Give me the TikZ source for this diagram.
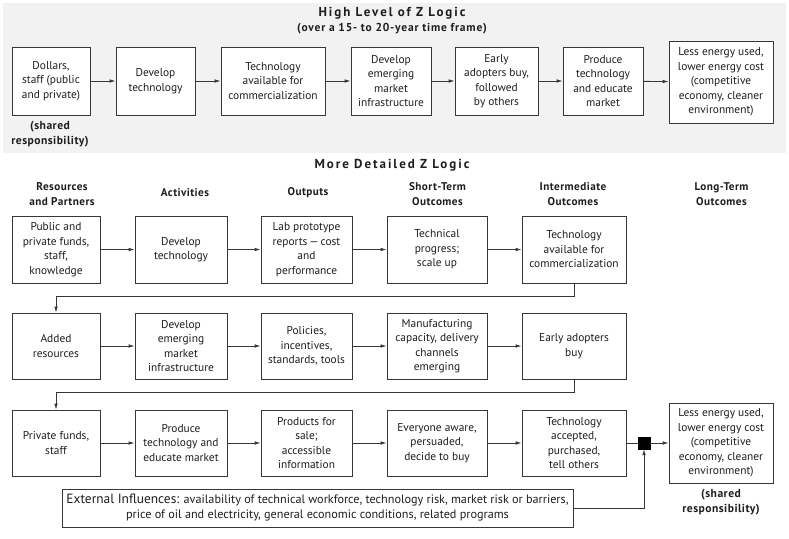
\documentclass[tikz,border=0pt]{standalone}
\usepackage{fontspec}
\setmainfont{PT Sans}
\newfontfamily\ttlfont{PT Sans}[LetterSpace=15]
\newfontfamily\subfont{PT Sans}[LetterSpace=7]
\newfontfamily\hdrfont{PT Sans}[LetterSpace=4]
\usetikzlibrary{arrows.meta}
\definecolor{panel}{RGB}{242,242,242}
\definecolor{linec}{RGB}{55,55,55}
\definecolor{txt}{RGB}{30,30,30}
\begin{document}
\begin{tikzpicture}[x=1pt,y=-1pt,
  box/.style={draw=linec, line width=0.8pt, fill=white, align=center, inner sep=1pt, text=txt,
              font=\fontsize{11.4}{14.5}\selectfont},
  conn/.style={draw=linec, line width=0.8pt},
  arr/.style={conn, -{Latex[length=6pt,width=3.6pt]}},
  hdr/.style={align=center, text=txt, font=\hdrfont\bfseries\fontsize{11.2}{15}\selectfont},
  ttl/.style={align=center, text=txt, font=\ttlfont\bfseries\fontsize{13}{16}\selectfont},
  note/.style={align=center, text=txt, font=\hdrfont\bfseries\fontsize{11.6}{15}\selectfont}]
\useasboundingbox (0,0) rectangle (789,538);
\fill[white] (0,0) rectangle (789,538);
\fill[panel] (3,3) rectangle (786,153);

% ---------- High level ----------
\node[ttl] (title1) at (392,13) {High Level of Z Logic};
\node[ttl, font=\subfont\bfseries\fontsize{11.5}{14}\selectfont] (title1b) at (392,29) {(over a 15- to 20-year time frame)};

\node[box, minimum width=78pt, minimum height=68pt] (t1) at (51,81) {Dollars,\\staff (public\\and private)};
\node[box, minimum width=79pt, minimum height=68pt] (t2) at (155.5,81) {Develop\\technology};
\node[box, minimum width=104pt, minimum height=68pt] (t3) at (273,81) {Technology\\available for\\commercialization};
\node[box, minimum width=80pt, minimum height=68pt] (t4) at (391,81) {Develop\\emerging\\market\\infrastructure};
\node[box, minimum width=83pt, minimum height=68pt] (t5) at (496.5,81) {Early\\adopters buy,\\followed\\by others};
\node[box, minimum width=80pt, minimum height=68pt] (t6) at (603,81) {Produce\\technology\\and educate\\market};
\node[box, minimum width=104pt, minimum height=82pt] (t7) at (721,82) {Less energy used,\\lower energy cost\\(competitive\\economy, cleaner\\environment)};
\node[note] (sr1) at (50,134.5) {(shared\\responsibility)};

\draw[arr] (t1) -- (t2);
\draw[arr] (t2) -- (t3);
\draw[arr] (t3) -- (t4);
\draw[arr] (t4) -- (t5);
\draw[arr] (t5) -- (t6);
\draw[arr] (t6) -- (t7);

% ---------- Detailed ----------
\node[ttl] (title2) at (392,165) {More Detailed Z Logic};
\node[hdr] (h1) at (62,194.5) {Resources\\and Partners};
\node[hdr] (h2) at (185,193) {Activities};
\node[hdr] (h3) at (308,193) {Outputs};
\node[hdr] (h4) at (437.5,194.5) {Short-Term\\Outcomes};
\node[hdr] (h5) at (573,194.5) {Intermediate\\Outcomes};
\node[hdr] (h6) at (721.5,194.5) {Long-Term\\Outcomes};

% row 1
\node[box, minimum width=88pt, minimum height=67pt] (a1) at (56,249.5) {Public and\\private funds,\\staff,\\knowledge};
\node[box, minimum width=92pt, minimum height=67pt] (b1) at (181,249.5) {Develop\\technology};
\node[box, minimum width=91pt, minimum height=67pt] (c1) at (306.5,249.5) {Lab prototype\\reports\,—\,cost\\and\\performance};
\node[box, minimum width=100pt, minimum height=67pt] (d1) at (437,249.5) {Technical\\progress;\\scale up};
\node[box, minimum width=104pt, minimum height=67pt] (e1) at (574,249.5) {Technology\\available for\\commercialization};
% row 2
\node[box, minimum width=88pt, minimum height=66pt] (a2) at (56,346) {Added\\resources};
\node[box, minimum width=92pt, minimum height=66pt] (b2) at (181,346) {Develop\\emerging\\market\\infrastructure};
\node[box, minimum width=91pt, minimum height=66pt] (c2) at (306.5,346) {Policies,\\incentives,\\standards, tools};
\node[box, minimum width=100pt, minimum height=66pt] (d2) at (437,346) {Manufacturing\\capacity, delivery\\channels\\emerging};
\node[box, minimum width=104pt, minimum height=66pt] (e2) at (574,346) {Early adopters\\buy};
% row 3
\node[box, minimum width=88pt, minimum height=66pt] (a3) at (56,443) {Private funds,\\staff};
\node[box, minimum width=92pt, minimum height=66pt] (b3) at (181,443) {Produce\\technology and\\educate market};
\node[box, minimum width=91pt, minimum height=66pt] (c3) at (306.5,443) {Products for\\sale;\\accessible\\information};
\node[box, minimum width=100pt, minimum height=66pt] (d3) at (437,443) {Everyone aware,\\persuaded,\\decide to buy};
\node[box, minimum width=104pt, minimum height=66pt] (e3) at (574,443) {Technology\\accepted,\\purchased,\\tell others};

\node[fill=black, draw=black, minimum size=12pt, inner sep=0pt] (sq) at (644,443) {};
\node[box, minimum width=104pt, minimum height=80pt] (f) at (721,443) {Less energy used,\\lower energy cost\\(competitive\\economy, cleaner\\environment)};
\node[note] (sr2) at (721,502.5) {(shared\\responsibility)};

\node[box, minimum width=511pt, minimum height=38pt, font=\fontsize{12.2}{15}\selectfont] (ext) at (317.5,508)
  {{\fontsize{13.4}{15}\selectfont External Influences:} availability of technical workforce, technology risk, market risk or barriers,\\price of oil and electricity, general economic conditions, related programs};

\draw[arr] (a1) -- (b1);
\draw[arr] (b1) -- (c1);
\draw[arr] (c1) -- (d1);
\draw[arr] (d1) -- (e1);
\draw[arr] (a2) -- (b2);
\draw[arr] (b2) -- (c2);
\draw[arr] (c2) -- (d2);
\draw[arr] (d2) -- (e2);
\draw[arr] (a3) -- (b3);
\draw[arr] (b3) -- (c3);
\draw[arr] (c3) -- (d3);
\draw[arr] (d3) -- (e3);

\draw[arr] (e1.south) -- ++(0,13) -| (a2.north);
\draw[arr] (e2.south) -- ++(0,13) -| (a3.north);

\draw[conn] (e3.east) -- (sq.west);
\draw[arr] (sq.east) -- (f.west);
\draw[arr] (ext.east) -| (sq.south);
\end{tikzpicture}
\end{document}
